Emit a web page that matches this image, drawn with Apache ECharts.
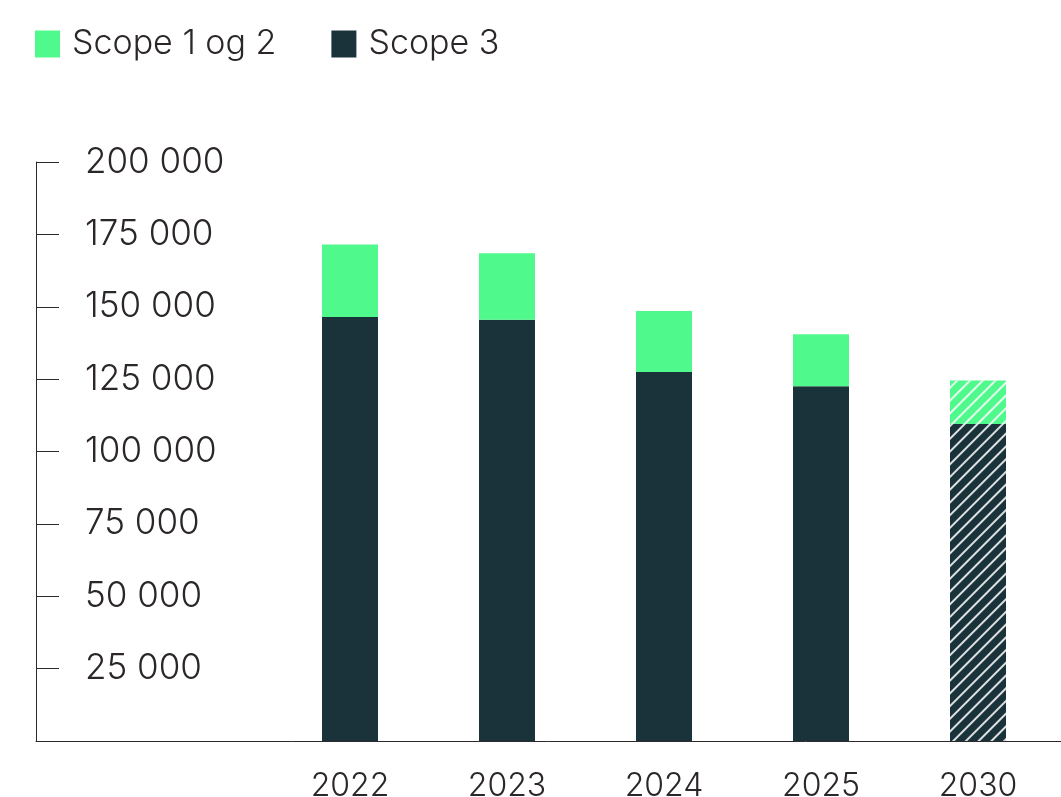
<!DOCTYPE html>
<html>
<head>
<meta charset="utf-8">
<script src="https://cdn.jsdelivr.net/npm/echarts@6/dist/echarts.min.js"></script>
<style>
  html, body { margin: 0; padding: 0; background: #fff; }
  #chart { width: 1061px; height: 797px; }
</style>
</head>
<body>
<div id="chart"></div>
<script>
// utslipp per år, tonn CO2e
const years = ["2022", "2023", "2024", "2025", "2030"];
const scope3 = [146500, 145500, 127500, 122500, 109500];
const scope12 = [25000, 23000, 21000, 18000, 15000];

const dark = "#1a323a";
const green = "#50f98b";
const textColor = "#2b2627";
const font = "Inter";

// 2030 er mål -> skravert
const hatch = {
    symbol: "rect",
    symbolSize: 1,
    dashArrayX: [1, 0],
    dashArrayY: [1.5, 7],
    rotation: -Math.PI / 4,
    color: "rgba(255,255,255,0.85)"
};

// to tomme kategorier foran og én bak for å plassere søylene
const cats = ["", ""].concat(years, [""]);
const pad = arr => [null, null].concat(arr.map((v, i) =>
    years[i] === "2030" ? { value: v, itemStyle: { decal: hatch } } : v
), [null]);

const chart = echarts.init(document.getElementById("chart"));

chart.setOption({
    animation: false,
    textStyle: { fontFamily: font },
    legend: {
        data: ["Scope 1 og 2", "Scope 3"],
        left: 35,
        top: 27,
        padding: 0,
        itemWidth: 25,
        itemHeight: 27,
        itemGap: 55,
        icon: "rect",
        textStyle: { color: textColor, fontSize: 34, fontWeight: 300, fontFamily: font, padding: [0, 0, 0, 7] }
    },
    grid: { left: 36, top: 162, bottom: 56, width: 7 * 157, outerBoundsMode: "none", containLabel: false },
    xAxis: {
        type: "category",
        data: cats,
        boundaryGap: false,
        axisLine: { lineStyle: { color: "#2e2a2b", width: 1 } },
        axisTick: { show: false },
        axisLabel: { color: textColor, fontSize: 32, fontWeight: 300, margin: 29, fontFamily: font }
    },
    yAxis: {
        type: "value",
        min: 0,
        max: 200000,
        interval: 25000,
        axisLine: { show: true, lineStyle: { color: "#2e2a2b", width: 1 } },
        axisTick: { show: true, inside: true, length: 23, lineStyle: { color: "#2e2a2b" } },
        splitLine: { show: false },
        axisLabel: {
            inside: true,
            margin: 49,
            color: textColor,
            fontSize: 35,
            fontWeight: 300,
            fontFamily: font,
            showMinLabel: false,
            formatter: v => v === 0 ? "" : String(v).replace(/\B(?=(\d{3})+(?!\d))/g, " ")
        }
    },
    series: [
        {
            name: "Scope 3",
            type: "bar",
            stack: "total",
            barWidth: 56,
            itemStyle: { color: dark },
            data: pad(scope3)
        },
        {
            name: "Scope 1 og 2",
            type: "bar",
            stack: "total",
            barWidth: 56,
            itemStyle: { color: green },
            data: pad(scope12)
        }
    ]
});

window.addEventListener("resize", () => chart.resize());
</script>
</body>
</html>
